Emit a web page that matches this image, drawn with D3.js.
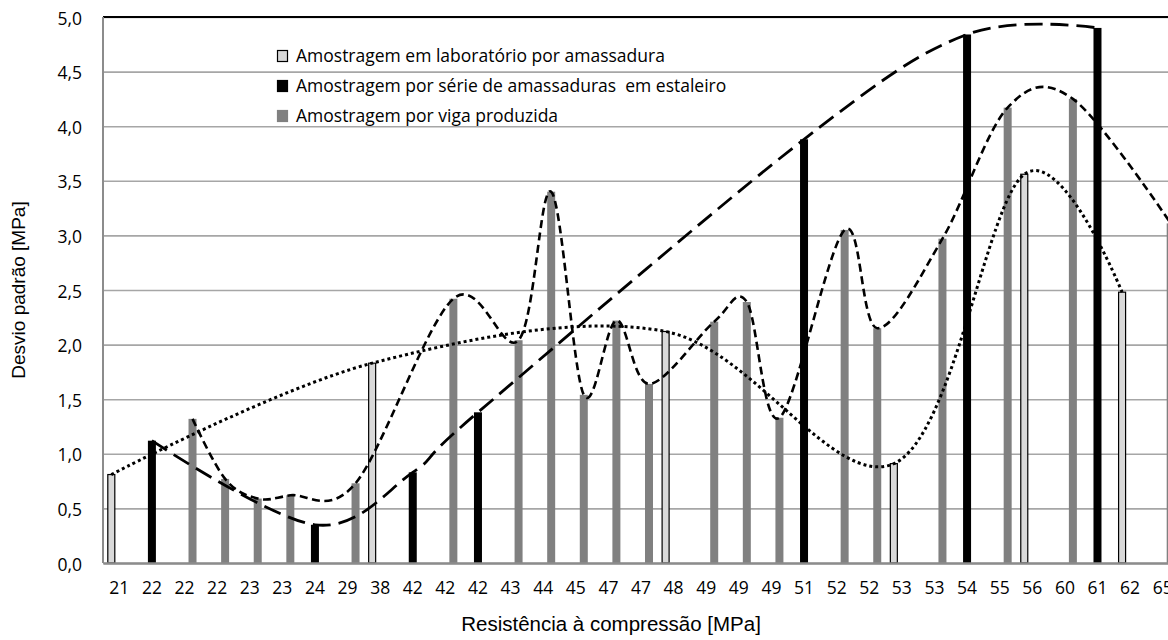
<!DOCTYPE html>
<html>
<head>
<meta charset="utf-8">
<script src="https://cdn.jsdelivr.net/npm/d3@7"></script>
<style>
    body { margin: 0; background: #fff; }
    .tick text { font-family: 'Open Sans', 'Noto Sans', sans-serif; font-size: 17.5px; fill: #000; }
    .legend text { font-family: 'Open Sans', 'Noto Sans', sans-serif; font-size: 17.5px; fill: #000; white-space: pre; }
    .title { font-family: 'Liberation Sans', Arial, sans-serif; font-size: 19px; fill: #000; }
</style>
</head>
<body>
<svg width="1168" height="640"></svg>
<script>
/* global d3 */
const categories = ['21', '22', '22', '22', '23', '23', '24', '29', '38', '42', '42',
    '42', '43', '44', '45', '47', '47', '48', '49', '49', '49', '51',
    '52', '52', '53', '53', '54', '55', '56', '60', '61', '62', '65'];

// Amostragem em laboratório por amassadura
const labValues = [0.81, null, null, null, null, null, null, null, 1.83, null, null,
    null, null, null, null, null, null, 2.12, null, null, null, null,
    null, null, 0.91, null, null, null, 3.56, null, null, 2.48, null];

// Amostragem por série de amassaduras em estaleiro
const yardValues = [null, 1.12, null, null, null, null, 0.35, null, null, 0.83, null,
    1.38, null, null, null, null, null, null, null, null, null, 3.88,
    null, null, null, null, 4.84, null, null, null, 4.90, null, null];

// Amostragem por viga produzida
const beamValues = [null, null, 1.32, 0.77, 0.59, 0.62, null, 0.73, null, null, 2.42,
    null, 2.04, 3.40, 1.54, 2.22, 1.64, null, 2.21, 2.39, 1.33, null,
    3.05, 2.15, null, 2.97, null, 4.17, null, 4.25, null, null, 3.11];

const seriesNames = [
    'Amostragem em laboratório por amassadura',
    'Amostragem por série de amassaduras  em estaleiro',
    'Amostragem por viga produzida'
];

const yTicks = [0, 0.5, 1, 1.5, 2, 2.5, 3, 3.5, 4, 4.5, 5];

const series = [
    {key: 'lab', name: seriesNames[0], values: labValues, fill: '#d9d9d9', stroke: '#000', dash: '3 3', width: 3},
    {key: 'yard', name: seriesNames[1], values: yardValues, fill: '#000', stroke: 'none', dash: '18 8', width: 2.8},
    {key: 'beam', name: seriesNames[2], values: beamValues, fill: '#808080', stroke: 'none', dash: '8 4.5', width: 2.6}
];

const svg = d3.select('svg');
const margin = {left: 103, top: 17, bottom: 77};
const plotRight = 1179;
const height = +svg.attr('height');

const x = d3.scaleBand()
    .domain(d3.range(categories.length))
    .range([margin.left, plotRight]);

const sub = d3.scaleBand()
    .domain(series.map(s => s.key))
    .range([-12, 12]);

const y = d3.scaleLinear()
    .domain([0, 5])
    .range([height - margin.bottom, margin.top]);

const locale = d3.formatLocale({decimal: ',', thousands: '.', grouping: [3], currency: ['', '€']});
const fmt = locale.format('.1f');

// gridlines + y labels
const yAxis = svg.append('g')
    .attr('transform', `translate(${margin.left},0)`)
    .call(d3.axisLeft(y)
        .tickValues(yTicks)
        .tickFormat(fmt)
        .tickSize(-(plotRight - margin.left))
        .tickPadding(21));
yAxis.select('.domain').remove();
yAxis.selectAll('.tick line')
    .attr('stroke', '#a6a6a6')
    .attr('stroke-width', 1.6);
yAxis.selectAll('.tick text')
    .attr('dy', '0.4em');

// top border
svg.append('line')
    .attr('x1', margin.left)
    .attr('x2', plotRight)
    .attr('y1', y(5))
    .attr('y2', y(5))
    .attr('stroke', '#000')
    .attr('stroke-width', 2);

// left axis line
svg.append('line')
    .attr('x1', margin.left)
    .attr('x2', margin.left)
    .attr('y1', y(5))
    .attr('y2', y(0))
    .attr('stroke', '#8c8c8c')
    .attr('stroke-width', 2);

// bars
series.forEach(function (s) {
    const pts = s.values.map((v, i) => ({i: i, v: v})).filter(d => d.v !== null);
    svg.append('g')
        .selectAll('rect')
        .data(pts)
        .enter().append('rect')
        .attr('x', d => x(d.i) + x.bandwidth() / 2 + sub(s.key) + (s.stroke === 'none' ? 0 : 0.5))
        .attr('width', sub.bandwidth() - (s.stroke === 'none' ? 0 : 1))
        .attr('y', d => y(d.v))
        .attr('height', d => y(0) - y(d.v))
        .attr('fill', s.fill)
        .attr('stroke', s.stroke)
        .attr('stroke-width', 1.2);
});

// x axis
const xAxis = svg.append('g')
    .attr('transform', `translate(0,${y(0)})`)
    .call(d3.axisBottom(x)
        .tickFormat(i => categories[i])
        .tickSize(0)
        .tickPadding(19));
xAxis.select('.domain')
    .attr('stroke', '#8c8c8c')
    .attr('stroke-width', 2.4);

// smoothed lines through each series
const line = d3.line()
    .x(d => x(d.i) + x.bandwidth() / 2 + sub(d.key) + sub.bandwidth() / 2)
    .y(d => y(d.v))
    .curve(d3.curveCardinal.tension(0));

series.forEach(function (s) {
    const pts = s.values.map((v, i) => ({i: i, v: v, key: s.key})).filter(d => d.v !== null);
    svg.append('path')
        .datum(pts)
        .attr('d', line)
        .attr('fill', 'none')
        .attr('stroke', '#000')
        .attr('stroke-width', s.width)
        .attr('stroke-dasharray', s.dash);
});

// legend
const legend = svg.append('g')
    .attr('class', 'legend')
    .attr('transform', 'translate(277,50)');

const item = legend.selectAll('g')
    .data(series)
    .enter().append('g')
    .attr('transform', (d, i) => `translate(0,${i * 30})`);

item.append('rect')
    .attr('x', 0.5)
    .attr('y', 0.5)
    .attr('width', 10)
    .attr('height', 11)
    .attr('fill', d => d.fill)
    .attr('stroke', d => d.stroke === 'none' ? d.fill : '#000')
    .attr('stroke-width', 1.2);

item.append('text')
    .attr('x', 19)
    .attr('y', 6)
    .attr('dy', '0.36em')
    .text(d => d.name);

// axis titles
svg.append('text')
    .attr('class', 'title')
    .attr('x', 611)
    .attr('y', 631)
    .attr('text-anchor', 'middle')
    .style('font-size', '20.5px')
    .text('Resistência à compressão [MPa]');

svg.append('text')
    .attr('class', 'title')
    .attr('transform', 'translate(25,290) rotate(-90)')
    .attr('text-anchor', 'middle')
    .text('Desvio padrão [MPa]');
</script>
</body>
</html>
